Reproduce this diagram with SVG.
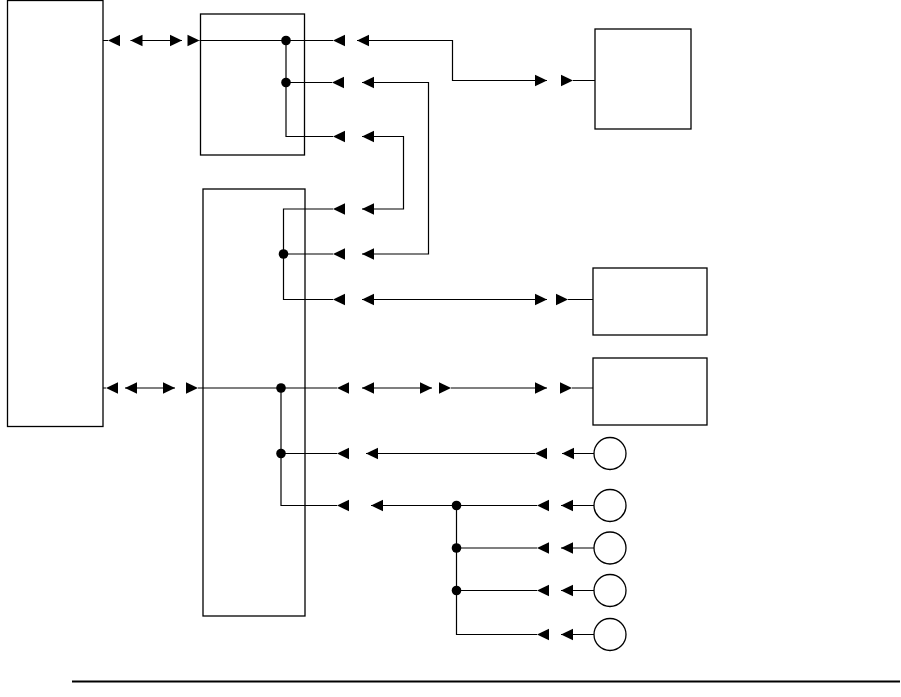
<svg xmlns="http://www.w3.org/2000/svg" xmlns:xlink="http://www.w3.org/1999/xlink" width="901" height="697" viewBox="0 0 901 697">
<style>
.box{fill:#fff;stroke:#000;stroke-width:1.3}
.w{fill:none;stroke:#000;stroke-width:1.2}
.dot{fill:#000}
.ah{fill:#000}
</style>
<defs>
<path id="al" class="ah" d="M0,0 L12,-5.8 L12,5.8 Z"/>
<path id="ar" class="ah" d="M0,0 L-12,-5.8 L-12,5.8 Z"/>
</defs>
<rect width="901" height="697" fill="#fff"/>
<g id="node-main"><rect class="box" x="7.5" y="0.5" width="95.5" height="426"/></g>
<g id="node-upper-hub"><rect class="box" x="200.5" y="14" width="104" height="141"/></g>
<g id="node-lower-hub"><rect class="box" x="203" y="189" width="102" height="427"/></g>
<g id="node-box-top"><rect class="box" x="595" y="29" width="96" height="100"/></g>
<g id="node-box-mid"><rect class="box" x="593" y="268" width="114" height="67"/></g>
<g id="node-box-low"><rect class="box" x="593" y="358" width="114" height="67"/></g>
<g id="node-c1"><circle class="box" cx="610" cy="453.5" r="16"/></g>
<g id="node-c2"><circle class="box" cx="610" cy="505.5" r="16"/></g>
<g id="node-c3"><circle class="box" cx="610" cy="548" r="16"/></g>
<g id="node-c4"><circle class="box" cx="610" cy="590.5" r="16"/></g>
<g id="node-c5"><circle class="box" cx="610" cy="634.5" r="16"/></g>
<g id="connectors">
<path class="w" d="M103,40.5 H108 M130.5,40.5 H182 M199.5,40.5 H333 M357,40.5 H452.5 V80.5 H547 M573,80.5 H595"/>
<use xlink:href="#al" x="108" y="40.5"/>
<use xlink:href="#al" x="130.5" y="40.5"/>
<use xlink:href="#ar" x="182" y="40.5"/>
<use xlink:href="#ar" x="199.5" y="40.5"/>
<use xlink:href="#al" x="333" y="40.5"/>
<use xlink:href="#al" x="357" y="40.5"/>
<use xlink:href="#ar" x="547" y="80.5"/>
<use xlink:href="#ar" x="573" y="80.5"/>
<circle class="dot" cx="286" cy="40.5" r="4.8"/>
<path class="w" d="M286,40.5 V136.5 H333 M286,82.5 H332 M362,82.5 H428.5 V254 H362 M362,136.5 H403.5 V209 H362"/>
<use xlink:href="#al" x="332" y="82.5"/>
<use xlink:href="#al" x="362" y="82.5"/>
<use xlink:href="#al" x="333" y="136.5"/>
<use xlink:href="#al" x="362" y="136.5"/>
<circle class="dot" cx="286" cy="82.5" r="4.8"/>
<path class="w" d="M333,209 H283.5 V299.5 H333 M283.5,254 H333 M362,299.5 H547 M568,299.5 H593"/>
<use xlink:href="#al" x="333" y="209"/>
<use xlink:href="#al" x="362" y="209"/>
<use xlink:href="#al" x="333" y="254"/>
<use xlink:href="#al" x="362" y="254"/>
<use xlink:href="#al" x="333" y="299.5"/>
<use xlink:href="#al" x="362" y="299.5"/>
<use xlink:href="#ar" x="547" y="299.5"/>
<use xlink:href="#ar" x="568" y="299.5"/>
<circle class="dot" cx="283.5" cy="254" r="4.8"/>
<path class="w" d="M103,388 H106 M125,388 H175 M198,388 H337 M362,388 H432 M451,388 H547 M572,388 H593"/>
<use xlink:href="#al" x="106" y="388"/>
<use xlink:href="#al" x="125" y="388"/>
<use xlink:href="#ar" x="175" y="388"/>
<use xlink:href="#ar" x="198" y="388"/>
<use xlink:href="#al" x="337" y="388"/>
<use xlink:href="#al" x="362" y="388"/>
<use xlink:href="#ar" x="432" y="388"/>
<use xlink:href="#ar" x="451" y="388"/>
<use xlink:href="#ar" x="547" y="388"/>
<use xlink:href="#ar" x="572" y="388"/>
<circle class="dot" cx="281" cy="388" r="4.8"/>
<path class="w" d="M281,388 V505.5 H337 M281,453.5 H337 M366,453.5 H535 M562,453.5 H594"/>
<use xlink:href="#al" x="337" y="453.5"/>
<use xlink:href="#al" x="366" y="453.5"/>
<use xlink:href="#al" x="535" y="453.5"/>
<use xlink:href="#al" x="562" y="453.5"/>
<circle class="dot" cx="281" cy="453.5" r="4.8"/>
<path class="w" d="M371,505.5 H537 M456.5,505.5 V634.5 H537 M456.5,548 H537 M456.5,590.5 H537 M561,505.5 H594 M561,548 H594 M561,590.5 H594 M561,634.5 H594"/>
<use xlink:href="#al" x="337" y="505.5"/>
<use xlink:href="#al" x="371" y="505.5"/>
<use xlink:href="#al" x="537" y="505.5"/>
<use xlink:href="#al" x="561" y="505.5"/>
<use xlink:href="#al" x="537" y="548"/>
<use xlink:href="#al" x="561" y="548"/>
<use xlink:href="#al" x="537" y="590.5"/>
<use xlink:href="#al" x="561" y="590.5"/>
<use xlink:href="#al" x="537" y="634.5"/>
<use xlink:href="#al" x="561" y="634.5"/>
<circle class="dot" cx="456.5" cy="505.5" r="4.8"/>
<circle class="dot" cx="456.5" cy="548" r="4.8"/>
<circle class="dot" cx="456.5" cy="590.5" r="4.8"/>
</g>
<line x1="72" y1="681.5" x2="900" y2="681.5" stroke="#000" stroke-width="2"/>
</svg>
